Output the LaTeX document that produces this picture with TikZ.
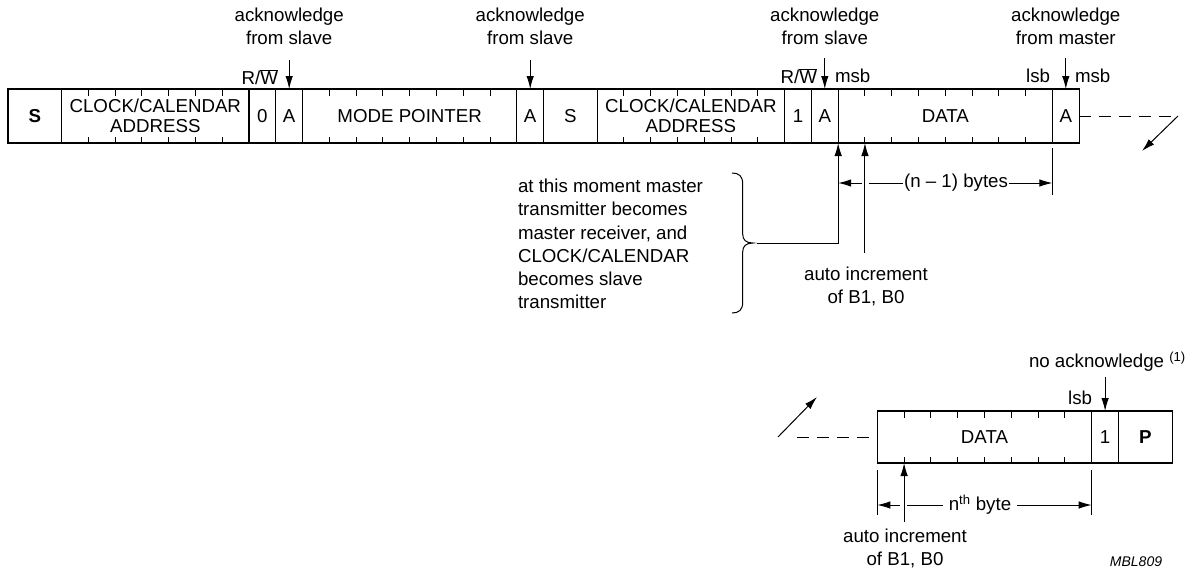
\documentclass[tikz,border=0pt]{standalone}
\usepackage{fontspec}
\setmainfont{Liberation Sans}
\usetikzlibrary{arrows.meta,calc}
\newcommand{\rwbar}{R/$\overline{\mbox{W}}$}
\begin{document}
\begin{tikzpicture}[x=1pt,y=-1pt,
  every node/.style={inner sep=0pt, outer sep=0pt, font=\fontsize{18.7}{23.2}\selectfont},
  fld/.style={draw, line width=1.2pt, minimum height=54pt, anchor=north west, align=center,
    font=\fontsize{18.7}{20.5}\selectfont},
  fldb/.style={fld, minimum height=52pt},
  arr/.style={line width=1pt, -{Latex[length=13pt,width=7.5pt]}},
  thinl/.style={line width=1pt},
  dsh/.style={line width=1pt, dash pattern=on 12pt off 8pt}]
\useasboundingbox (0,0) rectangle (1187,576);
\def\b{26.78}
\def\bb{26.8}
% ---------- top frame ----------
\node[fld, minimum width=2*\b] (s1) at (8,89) {\textbf{S}};
\node[fld, minimum width=7*\b] (ad1) at (s1.north east) {CLOCK/CALENDAR\\ADDRESS};
\node[fld, minimum width=\b] (z0) at (ad1.north east) {0};
\node[fld, minimum width=\b] (a1) at (z0.north east) {A};
\node[fld, minimum width=8*\b] (mp) at (a1.north east) {MODE POINTER};
\node[fld, minimum width=\b] (a2) at (mp.north east) {A};
\node[fld, minimum width=2*\b] (s2) at (a2.north east) {S};
\node[fld, minimum width=7*\b] (ad2) at (s2.north east) {CLOCK/CALENDAR\\ADDRESS};
\node[fld, minimum width=\b] (o1) at (ad2.north east) {1};
\node[fld, minimum width=\b] (a3) at (o1.north east) {A};
\node[fld, minimum width=8*\b] (d1) at (a3.north east) {DATA};
\node[fld, minimum width=\b] (a4) at (d1.north east) {A};
% ticks
\foreach \i in {1,...,6} {
  \draw[thinl] ($(ad1.north west)+(\i*\b,0)$) -- ++(0,6.5);
  \draw[thinl] ($(ad1.south west)+(\i*\b,0)$) -- ++(0,-6.5);
  \draw[thinl] ($(ad2.north west)+(\i*\b,0)$) -- ++(0,6.5);
  \draw[thinl] ($(ad2.south west)+(\i*\b,0)$) -- ++(0,-6.5);
}
\foreach \i in {1,...,7} {
  \draw[thinl] ($(mp.north west)+(\i*\b,0)$) -- ++(0,6.5);
  \draw[thinl] ($(mp.south west)+(\i*\b,0)$) -- ++(0,-6.5);
  \draw[thinl] ($(d1.north west)+(\i*\b,0)$) -- ++(0,6.5);
  \draw[thinl] ($(d1.south west)+(\i*\b,0)$) -- ++(0,-6.5);
}
% acknowledge labels
\node[align=center] (lab1) at ($(a1.north)+(0,-62.5)$) {acknowledge\\from slave};
\node[align=center] (lab2) at ($(a2.north)+(0,-62.5)$) {acknowledge\\from slave};
\node[align=center] (lab3) at ($(a3.north)+(0,-62.5)$) {acknowledge\\from slave};
\node[align=center] (lab4) at ($(a4.north)+(0,-62.5)$) {acknowledge\\from master};
\coordinate (t1) at ($(a1.north)+(0,-29)$);
\coordinate (t2) at ($(a2.north)+(0,-29)$);
\coordinate (t3) at ($(a3.north)+(0,-31)$);
\coordinate (t4) at ($(a4.north)+(0,-31)$);
\draw[arr] (t1) -- (a1.north);
\draw[arr] (t2) -- (a2.north);
\draw[arr] (t3) -- (a3.north);
\draw[arr] (t4) -- (a4.north);
% bit labels
\node[anchor=east] (rw1) at (278,77) {\rwbar};
\node[anchor=east] (rw2) at (817,76) {\rwbar};
\node[anchor=west] (msb1) at (835,76) {msb};
\node[anchor=east] (lsb1) at (1050,76) {lsb};
\node[anchor=west] (msb2) at (1075,76) {msb};
% continuation top right
\coordinate (tr) at (1178,116);
\coordinate (tre) at (1142,151);
\draw[dsh] (a4.east) -- (tr);
\draw[arr] (tr) -- (tre);
% brace and text
\node[anchor=west, align=left] (btxt) at (518,244) {at this moment master\\transmitter becomes\\master receiver, and\\CLOCK/CALENDAR\\becomes slave\\transmitter};
\draw[line width=1pt] (732,173) .. controls (739,173) and (742.7,176) .. (742.7,184)
  -- (742.7,234) .. controls (742.7,240) and (746,243) .. (753,243)
  .. controls (746,243) and (742.7,246) .. (742.7,252)
  -- (742.7,302) .. controls (742.7,310) and (739,313) .. (732,313);
\coordinate (bt) at (757,243);
\draw[arr] (bt) -| (a3.south east);
% (n-1) bytes dimension
\coordinate (dl) at (862,183);
\draw[arr] (dl) -- (a3.south east |- dl);
\node[inner xsep=1pt] (nb) at (956,183) {(n – 1) bytes};
\draw[thinl] (869,183) -- (nb.west);
\draw[arr] (nb.east) -- (d1.south east |- nb);
\draw[thinl] ($(d1.south east)+(0,5)$) -- ($(d1.south east)+(0,52)$);
% auto increment top
\node[align=center] (ai1) at (866,286.5) {auto increment\\of B1, B0};
\coordinate (tk1) at ($(d1.south west)+(\b,0)$);
\coordinate (ai1t) at ($(tk1)+(0,110)$);
\draw[arr] (ai1t) -- (tk1);
% ---------- bottom frame ----------
\node[fldb, minimum width=8*\bb] (d2) at (877.3,411) {DATA};
\node[fldb, minimum width=\bb] (o2) at (d2.north east) {1};
\node[fldb, minimum width=2*\bb] (p) at (o2.north east) {\textbf{P}};
\foreach \i in {1,...,7} {
  \draw[thinl] ($(d2.north west)+(\i*\bb,0)$) -- ++(0,6.5);
  \draw[thinl] ($(d2.south west)+(\i*\bb,0)$) -- ++(0,-6.5);
}
\node[anchor=west] (nack) at (1029,362) {no acknowledge \textsuperscript{(1)}};
\coordinate (t5) at ($(o2.north)+(0,-34)$);
\draw[arr] (t5) -- (o2.north);
\node[anchor=east] (lsb2) at (1092,398) {lsb};
\coordinate (bl) at (797,437);
\draw[dsh] (bl) -- (d2.west);
\coordinate (ba0) at (778,437);
\coordinate (ba1) at (817,397);
\draw[arr] (ba0) -- (ba1);
% nth byte dimension
\draw[thinl] ($(d2.south west)+(0,7)$) -- ($(d2.south west)+(0,52)$);
\draw[thinl] ($(d2.south east)+(0,7)$) -- ($(d2.south east)+(0,52)$);
\coordinate (dl2) at (900,505);
\draw[arr] (dl2) -- (d2.south west |- dl2);
\node[inner xsep=6pt] (nth) at (980,505) {n\textsuperscript{th} byte};
\draw[thinl] (907,505) -- (nth.west);
\draw[arr] (nth.east) -- (d2.south east |- nth);
\node[align=center] (ai2) at (905,548.5) {auto increment\\of B1, B0};
\coordinate (tk2) at ($(d2.south west)+(\bb,0)$);
\coordinate (ai2t) at ($(tk2)+(0,59)$);
\draw[arr] (ai2t) -- (tk2);
\node[font=\fontsize{14}{16}\selectfont\itshape] (mbl) at (1136,562) {MBL809};
\end{tikzpicture}
\end{document}
